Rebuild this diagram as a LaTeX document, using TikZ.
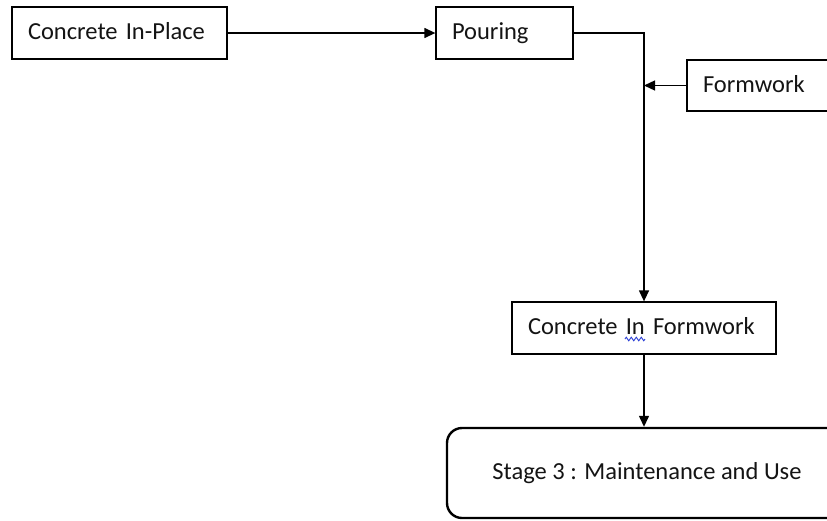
\documentclass[tikz,border=0pt]{standalone}
\usepackage{fontspec}
\setmainfont{Carlito}
\usetikzlibrary{arrows.meta,decorations.pathmorphing}

\definecolor{inktext}{HTML}{141414}
\definecolor{squiggle}{HTML}{2B3FD6}

\tikzset{
  flowbox/.style={draw=black, line width=1.3pt, fill=white, rectangle,
    inner xsep=16pt, inner ysep=0pt, minimum height=52pt,
    text width=#1-32pt, text height=18pt, text depth=5pt,
    align=left, text=inktext,
    font=\fontsize{24.5}{29}\selectfont},
  stagebox/.style={draw=black, line width=2.4pt, fill=white, rectangle,
    rounded corners=15pt, minimum width=400pt, minimum height=90pt,
    text height=18pt, text depth=5pt,
    text=inktext, font=\fontsize{24.5}{29}\selectfont},
  flowarrow/.style={draw=black, line width=1.3pt,
    -{Triangle[length=11pt, width=10pt]}}
}

\begin{document}
\begin{tikzpicture}[x=1pt, y=-1pt]
  \useasboundingbox (0,0) rectangle (827,520);
  \clip (0,0) rectangle (827,520);

  % process boxes
  \node[flowbox=215pt] (cip)   at (119.5,33)  {Concrete In-Place};
  \node[flowbox=137pt] (pour)  at (504.5,33)  {Pouring};
  \node[flowbox=150pt, minimum height=51pt] (form) at (762,85.5) {Formwork};
  \node[flowbox=264pt] (cif)   at (644,328)   {Concrete In Formwork};
  \node[stagebox]      (stage) at (647,473)   {Stage 3 : Maintenance and Use};

  % connectors
  \draw[flowarrow] (cip.east) -- (pour.west);
  \draw[flowarrow] (pour.east) -| (cif.north);
  \coordinate (join) at (form.west -| cif.north);
  \draw[flowarrow] (form.west) -- (join);
  \draw[flowarrow] (cif.south) -- (cif.south |- stage.north);

  % spell-check underline beneath "In"
  \draw[squiggle, line width=0.9pt,
    decorate, decoration={zigzag, segment length=5pt, amplitude=1.8pt}]
    (625,339) -- (645,339);
\end{tikzpicture}
\end{document}
